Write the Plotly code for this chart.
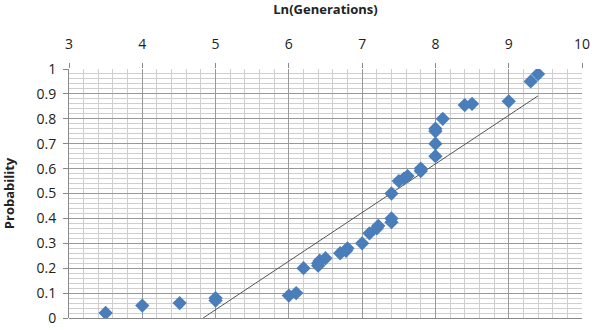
import plotly.graph_objects as go

ln_gen = [3.5, 4.0, 4.51, 5.0, 5.0, 6.0, 6.1, 6.2, 6.4, 6.4, 6.42, 6.5, 6.7, 6.78, 6.8,
          7.0, 7.1, 7.2, 7.22, 7.4, 7.4, 7.4, 7.5, 7.57, 7.62, 7.8, 7.8, 8.0, 8.0, 8.0, 8.0,
          8.1, 8.4, 8.5, 9.0, 9.3, 9.4]
prob = [0.02, 0.05, 0.06, 0.07, 0.08, 0.09, 0.10, 0.20, 0.21, 0.22, 0.23, 0.24, 0.26, 0.27, 0.28,
        0.30, 0.34, 0.36, 0.37, 0.385, 0.40, 0.50, 0.55, 0.56, 0.57, 0.59, 0.60, 0.65, 0.70, 0.75, 0.76,
        0.80, 0.855, 0.86, 0.87, 0.95, 0.98]

trend_x = [4.83, 9.4]
trend_y = [0.0, 0.892]

x_ticks = [3, 4, 5, 6, 7, 8, 9, 10]
y_ticks = [0, 0.1, 0.2, 0.3, 0.4, 0.5, 0.6, 0.7, 0.8, 0.9, 1]
y_labels = ["0", "0.1", "0.2", "0.3", "0.4", "0.5", "0.6", "0.7", "0.8", "0.9", "1"]

fig = go.Figure()
fig.add_trace(go.Scatter(x=trend_x, y=trend_y, mode="lines",
                         line=dict(color="#555555", width=1), hoverinfo="skip"))
fig.add_trace(go.Scatter(x=ln_gen, y=prob, mode="markers",
                         marker=dict(symbol="diamond", size=11, color="#4A7EBB"),
                         ))

font_family = "Open Sans, Liberation Sans, sans-serif"
fig.update_layout(
    width=597, height=330,
    margin=dict(l=69, r=15, t=69, b=12),
    paper_bgcolor="white", plot_bgcolor="white",
    showlegend=False,
    font=dict(family=font_family, size=14, color="#222222"),
    xaxis=dict(
        side="top", range=[3, 10], tickvals=x_ticks, automargin=False,
        showgrid=True, gridcolor="#999999", gridwidth=1,
        minor=dict(dtick=0.2, showgrid=True, gridcolor="#cfcfcf", gridwidth=1),
        ticks="outside", ticklen=5, tickcolor="#888888", ticklabelstandoff=8,
        showline=False, zeroline=False,
        title=dict(text="<b>Ln(Generations)</b>", font=dict(size=13, family=font_family), standoff=20),
        tickfont=dict(size=14),
    ),
    yaxis=dict(
        range=[0, 1], tickvals=y_ticks, ticktext=y_labels, automargin=False,
        showgrid=True, gridcolor="#999999", gridwidth=1,
        minor=dict(dtick=0.02, showgrid=True, gridcolor="#cfcfcf", gridwidth=1),
        ticks="outside", ticklen=5, tickcolor="#888888", ticklabelstandoff=4,
        showline=True, linecolor="#888888", mirror=False,
        zeroline=True, zerolinecolor="#888888", zerolinewidth=1,
        title=dict(text="<b>Probability</b>", font=dict(size=13, family=font_family), standoff=18),
        tickfont=dict(size=14),
    ),
)
fig.write_html("out.html")
